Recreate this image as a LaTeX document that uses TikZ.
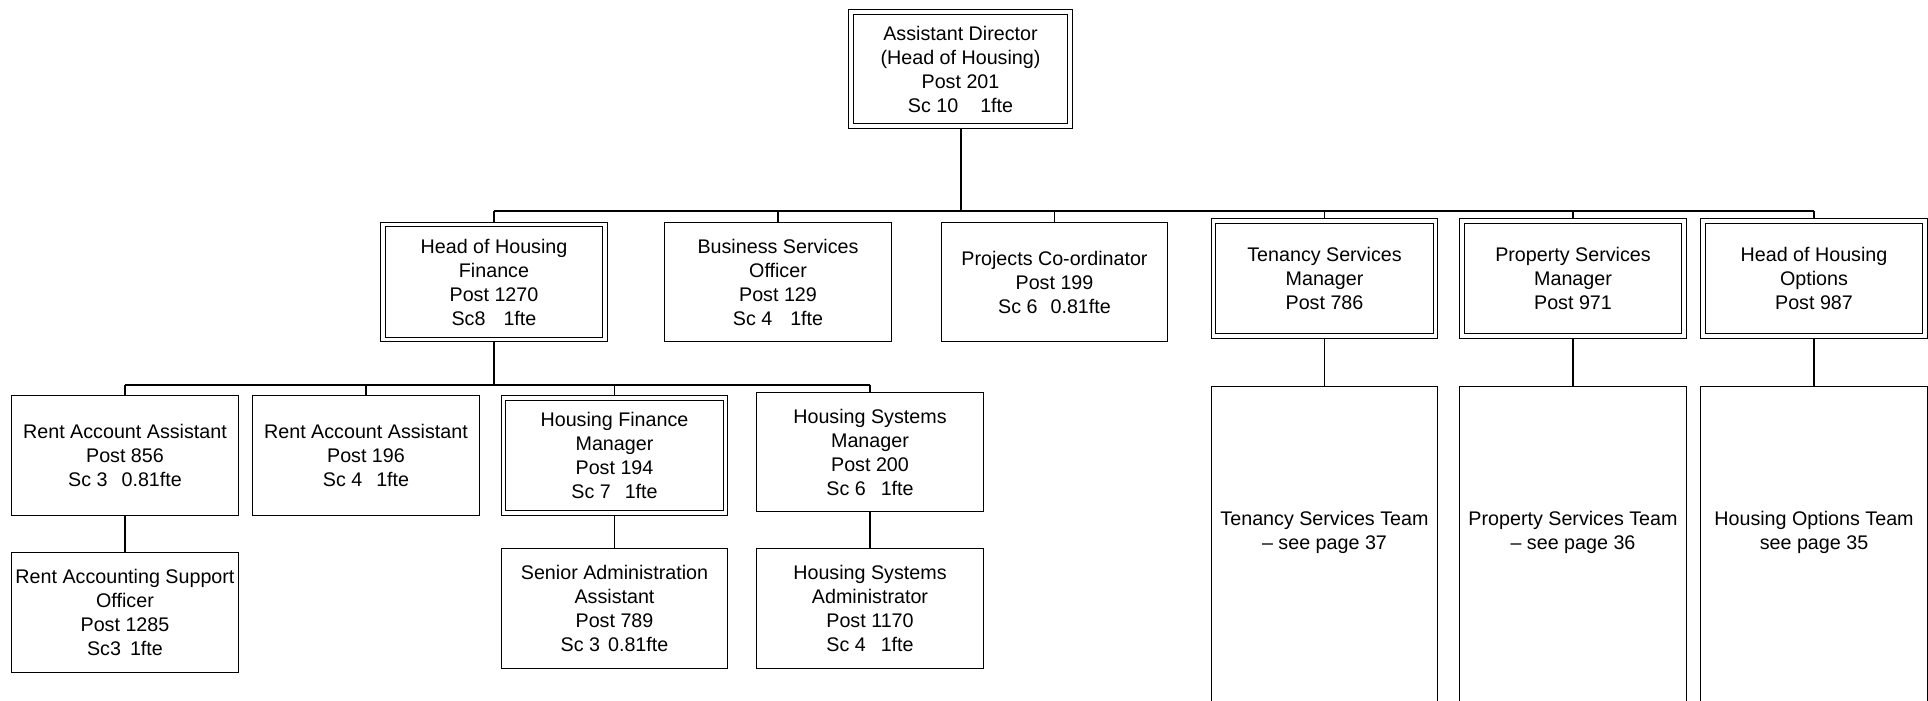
\documentclass[tikz,border=0pt]{standalone}
\usepackage{fontspec}
\setmainfont{Liberation Sans}
\newcommand\postfont{\fontsize{19.7}{24}\selectfont}
\newcommand\gap[1]{\hspace{#1pt}}
\tikzset{
  post/.style={draw, line width=1.3pt, inner sep=0pt, align=center, font=\postfont,
    minimum width=226.5pt, minimum height=119.5pt},
  lead/.style={post, double, double distance=3.2pt, outer sep=2.9pt,
    minimum width=222pt, minimum height=115pt},
  team/.style={draw, line width=1.3pt, inner sep=0pt, anchor=north,
    minimum width=226.5pt, minimum height=335pt},
  teamtext/.style={align=center, font=\postfont, inner sep=0pt},
  link/.style={line width=1.1pt},
  mainlink/.style={line width=2pt},
}
\begin{document}
\begin{tikzpicture}[x=1pt, y=-1pt]
\useasboundingbox (0,0) rectangle (1928,701);
\clip (0,0) rectangle (1928,701);

% head of service
\node[lead, minimum width=219pt, minimum height=114pt] (top) at (960.5,69)
  {Assistant Director\\(Head of Housing)\\Post 201\\Sc 10\gap{22}1fte};

% first tier
\node[lead] (hhf)  at (494,282)    {Head of Housing\\Finance\\Post 1270\\Sc8\gap{18}1fte};
\node[post] (bso)  at (778,282)    {Business Services\\Officer\\Post 129\\Sc 4\gap{18}1fte};
\node[post, minimum height=118.5pt] (proj) at (1054.5,282) {Projects Co-ordinator\\Post 199\\Sc 6\gap{13}0.81fte};
\node[lead] (ten)  at (1324.5,278.5) {Tenancy Services\\Manager\\Post 786};
\node[lead] (prop) at (1573,278.5)   {Property Services\\Manager\\Post 971};
\node[lead] (hho)  at (1814,278.5)   {Head of Housing\\Options\\Post 987};

% finance section
\node[post] (raa)  at (125,455.5)  {Rent Account Assistant\\Post 856\\Sc 3\gap{14}0.81fte};
\node[post] (raa2) at (366,455.5)  {Rent Account Assistant\\Post 196\\Sc 4\gap{14}1fte};
\node[lead] (hfm)  at (614.5,455.5) {Housing Finance\\Manager\\Post 194\\Sc 7\gap{14}1fte};
\node[post, minimum height=118.5pt] (hsm) at (870,452) {Housing Systems\\Manager\\Post 200\\Sc 6\gap{15}1fte};
\node[post] (raso) at (125,612.5)  {Rent Accounting Support\\Officer\\Post 1285\\Sc3\gap{9}1fte};
\node[post] (saa)  at (614.5,608.5) {Senior Administration\\Assistant\\Post 789\\Sc 3\gap{8}0.81fte};
\node[post] (hsa)  at (870,608.5)  {Housing Systems\\Administrator\\Post 1170\\Sc 4\gap{15}1fte};

% teams described on other pages
\node[team] (tenteam)  at (1324.5,385.6) {};
\node[team] (propteam) at (1573,385.6)   {};
\node[team] (hoteam)   at (1814,385.6)   {};
\node[teamtext] (tenteamtxt)  at (1324.5,532.5) {Tenancy Services Team\\– see page 37};
\node[teamtext] (propteamtxt) at (1573,532.5)   {Property Services Team\\– see page 36};
\node[teamtext] (hoteamtxt)   at (1814,532.5)   {Housing Options Team\\see page 35};

% first tier bus
\coordinate (b1) at (0,211);
\draw[mainlink] (top.south) -- (top.south |- b1);
\draw[link] (hhf.north |- b1) -- (hho.north |- b1);
\foreach \n in {hhf,bso,proj,ten,prop,hho}
  \draw[link] (\n.north) -- (\n.north |- b1);

% finance bus
\coordinate (b2) at (0,385);
\draw[link] (hhf.south) -- (hhf.south |- b2);
\draw[link] (raa.north |- b2) -- (hsm.north |- b2);
\foreach \n in {raa,raa2,hfm,hsm}
  \draw[link] (\n.north) -- (\n.north |- b2);

% direct reports
\draw[link] (raa.south) -- (raso.north);
\draw[link] (hfm.south) -- (saa.north);
\draw[link] (hsm.south) -- (hsa.north);
\draw[link] (ten.south) -- (tenteam.north);
\draw[link] (prop.south) -- (propteam.north);
\draw[link] (hho.south) -- (hoteam.north);
\end{tikzpicture}
\end{document}
